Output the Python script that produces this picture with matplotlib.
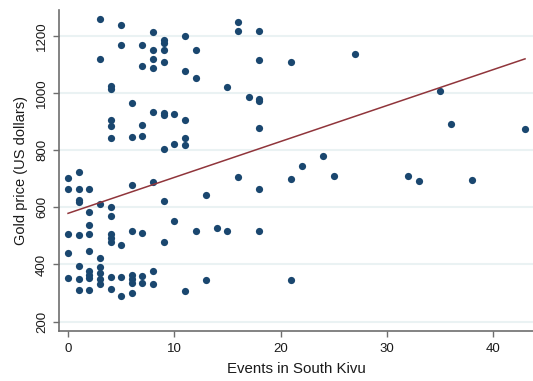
import numpy as np
import matplotlib
matplotlib.use("Agg")
import matplotlib.pyplot as plt

plt.rcParams['font.family'] = ['Liberation Sans', 'DejaVu Sans']

# Monthly conflict events in South Kivu and the gold price that month
events = [
    3, 5, 8, 9, 9, 11, 5, 7, 8, 9, 12, 3, 8, 7, 8, 9, 11, 12, 4, 4,
    6, 4, 4, 7, 8, 9, 9, 10, 11, 4, 6, 7, 11, 11, 10, 9,
    16, 16, 18, 18, 21, 27, 15, 17, 18, 18, 18, 35, 36, 43, 24, 22,
    16, 21, 25, 32, 33, 38, 18, 14, 15, 18, 21,
    0, 1, 0, 1, 2, 1, 1, 2, 3, 4, 4, 6, 8, 9, 13, 10, 2, 0, 1, 2,
    4, 4, 4, 5, 6, 7, 9, 12,
    0, 2, 3, 1, 0, 1, 2, 2, 2, 3, 3, 3, 3, 1, 2, 4, 4, 5, 5,
    6, 6, 6, 6, 7, 7, 8, 8, 11, 13,
]
gold_price = [
    1260, 1237, 1215, 1185, 1177, 1201, 1169, 1168, 1152, 1151, 1150, 1120,
    1120, 1096, 1088, 1109, 1077, 1053, 1024, 1014,
    965, 907, 886, 887, 935, 930, 924, 928, 907, 844, 845, 849, 843, 819,
    823, 806,
    1250, 1217, 1216, 1115, 1109, 1137, 1022, 986, 979, 971, 878, 1007, 893,
    876, 780, 745,
    705, 698, 708, 711, 691, 695, 665, 528, 516, 516, 346,
    701, 722, 663, 663, 663, 627, 620, 585, 610, 602, 568, 678, 688, 622,
    643, 552, 538, 506, 503, 506,
    505, 492, 479, 468, 517, 509, 479, 517,
    439, 446, 421, 393, 352, 349, 376, 364, 352, 390, 370, 350, 330, 312,
    312, 357, 314, 357, 290,
    362, 348, 334, 301, 358, 334, 376, 333, 308, 347,
]

# Linear fit of gold price on events (intercept, slope)
fit_intercept = 579.0
fit_slope = 12.58

x_ticks = [0, 10, 20, 30, 40]
y_ticks = [200, 400, 600, 800, 1000, 1200]

marker_color = "#1a476f"
fit_color = "#90353b"
axis_color = "#6e6e6e"
grid_color = "#eaf2f3"

x = np.array(events, dtype=float)
y = np.array(gold_price, dtype=float)
x_fit = np.array([x.min(), x.max()])
y_fit = fit_intercept + fit_slope * x_fit

fig = plt.figure(figsize=(5.33, 3.81), dpi=100)
ax = fig.add_axes([59 / 533, 1 - 331 / 381, 1 - 59 / 533, (331 - 10) / 381])

ax.set_axisbelow(True)
ax.grid(axis="y", color=grid_color, linewidth=1.5)
ax.grid(axis="x", visible=False)

ax.scatter(x, y, s=27, color=marker_color, linewidths=0, zorder=3)
ax.plot(x_fit, y_fit, color=fit_color, linewidth=1.1, zorder=4)

ax.set_xlim(-0.85, 43.75)
ax.set_ylim(167, 1291)
ax.set_xticks(x_ticks)
ax.set_yticks(y_ticks)
ax.set_yticklabels([str(v) for v in y_ticks], rotation=90, va="center")

for side in ("top", "right"):
    ax.spines[side].set_visible(False)
for side in ("left", "bottom"):
    ax.spines[side].set_color(axis_color)
    ax.spines[side].set_linewidth(1.2)

ax.tick_params(axis="both", colors=axis_color, length=4, width=1.0,
               labelsize=9.5, labelcolor="#1a1a1a")
ax.tick_params(axis="x", pad=5)
ax.tick_params(axis="y", pad=4)

ax.set_xlabel("Events in South Kivu", fontsize=10.8, color="#1a1a1a", labelpad=5)
ax.set_ylabel("Gold price (US dollars)", fontsize=10.5, color="#1a1a1a", labelpad=6)

fig.savefig("out.png", dpi=100, facecolor="white")
